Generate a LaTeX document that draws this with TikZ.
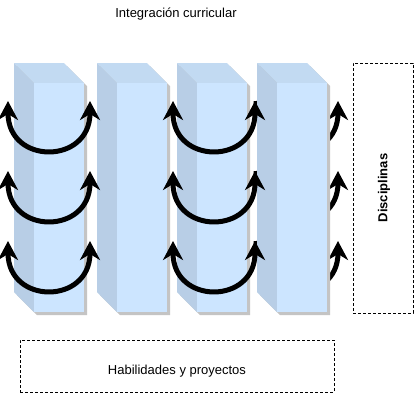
\documentclass[tikz,border=0pt]{standalone}
\usepackage{fontspec}
\setmainfont{Liberation Sans}
\usetikzlibrary{arrows.meta}
\definecolor{cfront}{HTML}{CCE5FF}
\definecolor{ctop}{HTML}{C2DAF2}
\definecolor{cside}{HTML}{B8CEE6}
\definecolor{cshadow}{HTML}{C4C4C4}
\tikzset{
  tipx/.tip={Stealth[length=19pt,width=20pt,inset=6pt]},
  uarr/.style={line width=5pt, black, tipx-tipx},
  rarr/.style={line width=5pt, black, -tipx},
  dbox/.style={draw=black, line width=1pt, dash pattern=on 3pt off 2pt, fill=white},
  lbl/.style={font=\fontsize{13}{15}\selectfont, text=black, inner sep=0pt}
}
\newcommand\mycube[2]{%
  \begin{scope}[shift={(#1,63)}]
    \fill[cshadow] (3,3) -- (53,3) -- (73,23) -- (73,252) -- (23,252) -- (3,232) -- cycle;
    \fill[ctop] (0,0) -- (50,0) -- (70,20) -- (20,20) -- cycle;
    \fill[cside] (0,0) -- (20,20) -- (20,249) -- (0,229) -- cycle;
    \fill[cfront] (20,20) rectangle (70,249);
    \coordinate (#2) at (0,0);
  \end{scope}}
\newcommand\myu[4]{% x, y tip, name, style
  \coordinate (#3s) at (#1,#2);
  \coordinate (#3e) at (#1+82,#2);
  \draw[#4] (#3s) .. controls +(0,64) and +(0,64) .. (#3e);}
\begin{document}
\begin{tikzpicture}[x=1pt,y=-1pt]
\useasboundingbox (0,0) rectangle (415,402);
\fill[white] (0,0) rectangle (415,402);
\node[lbl] (title) at (176,14) {Integración curricular};
\mycube{14}{b1}
\mycube{97}{b2}
\mycube{177}{b3}
\myu{8}{101}{ua}{uarr}
\myu{8}{171}{ub}{uarr}
\myu{8}{241}{uc}{uarr}
\myu{256}{101}{ga}{rarr}
\myu{256}{171}{gb}{rarr}
\myu{256}{241}{gc}{rarr}
\mycube{257}{b4}
\myu{173}{101}{va}{uarr}
\myu{173}{171}{vb}{uarr}
\myu{173}{241}{vc}{uarr}
\node[dbox, minimum width=60pt, minimum height=250pt] (disc) at (383,188) {};
\node[lbl, rotate=90, font=\fontsize{13}{15}\selectfont\bfseries] (disct) at (384,188) {Disciplinas};
\node[dbox, minimum width=314pt, minimum height=52pt] (hab) at (177,366) {};
\node[lbl] (habt) at (177,371) {Habilidades y proyectos};
\end{tikzpicture}
\end{document}
